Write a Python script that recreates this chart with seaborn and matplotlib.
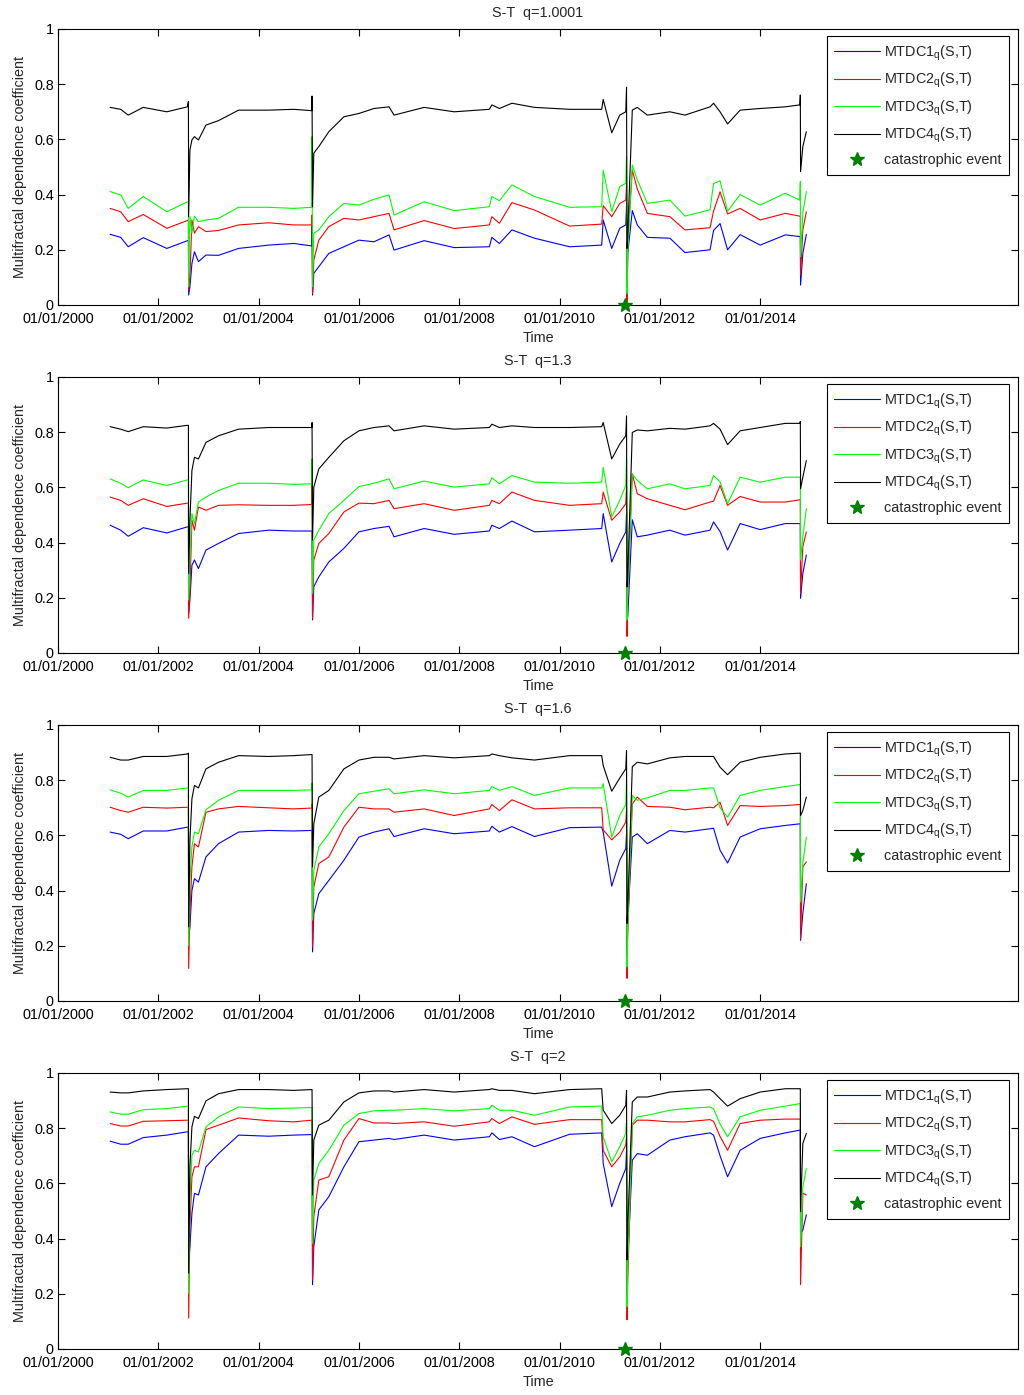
import numpy as np
import pandas as pd
import matplotlib
matplotlib.use("Agg")
import matplotlib.pyplot as plt
import matplotlib.dates as mdates
from matplotlib.lines import Line2D
import seaborn as sns

# sampling dates (decimal years), shared by all series
years = [2001.04, 2001.25, 2001.40, 2001.70, 2002.17, 2002.58, 2002.60, 2002.605, 2002.63, 2002.67,
         2002.72, 2002.80, 2002.95, 2003.20, 2003.60, 2004.20, 2004.70, 2005.06, 2005.065, 2005.075,
         2005.10, 2005.20, 2005.40, 2005.70, 2006.00, 2006.30, 2006.60, 2006.70, 2007.30, 2007.90,
         2008.60, 2008.65, 2008.80, 2009.05, 2009.50, 2010.20, 2010.84, 2010.87, 2011.04, 2011.20,
         2011.32, 2011.335, 2011.345, 2011.36, 2011.45, 2011.55, 2011.75, 2012.20, 2012.50, 2013.00,
         2013.07, 2013.20, 2013.35, 2013.60, 2014.00, 2014.50, 2014.79, 2014.80, 2014.805, 2014.85, 2014.92]

q_values = ["1.0001", "1.3", "1.6", "2"]
event_year = 2011.31

# q = 1.0001
p1_blue = [0.256, 0.245, 0.211, 0.244, 0.205, 0.233, 0.233, 0.036, 0.066, 0.150,
           0.193, 0.157, 0.181, 0.180, 0.205, 0.217, 0.223, 0.214, 0.290, 0.036,
           0.115, 0.139, 0.187, 0.211, 0.235, 0.229, 0.254, 0.199, 0.233, 0.208,
           0.211, 0.245, 0.223, 0.272, 0.242, 0.211, 0.217, 0.308, 0.205, 0.278,
           0.290, 0.360, 0.020, 0.187, 0.342, 0.290, 0.245, 0.242, 0.190, 0.200,
           0.270, 0.295, 0.200, 0.255, 0.217, 0.254, 0.248, 0.248, 0.072, 0.187, 0.256]
p1_red = [0.350, 0.338, 0.302, 0.328, 0.278, 0.306, 0.306, 0.054, 0.100, 0.308,
          0.260, 0.284, 0.266, 0.270, 0.290, 0.298, 0.290, 0.290, 0.326, 0.042,
          0.163, 0.235, 0.284, 0.314, 0.308, 0.320, 0.332, 0.272, 0.306, 0.277,
          0.290, 0.320, 0.296, 0.371, 0.344, 0.286, 0.293, 0.360, 0.320, 0.368,
          0.380, 0.430, 0.012, 0.235, 0.489, 0.420, 0.332, 0.320, 0.272, 0.280,
          0.340, 0.410, 0.330, 0.350, 0.308, 0.332, 0.322, 0.322, 0.109, 0.272, 0.338]
p1_green = [0.411, 0.399, 0.350, 0.393, 0.338, 0.374, 0.374, 0.066, 0.320, 0.260,
            0.322, 0.302, 0.308, 0.314, 0.354, 0.354, 0.350, 0.354, 0.610, 0.066,
            0.260, 0.272, 0.320, 0.368, 0.362, 0.383, 0.399, 0.326, 0.374, 0.342,
            0.356, 0.393, 0.378, 0.435, 0.393, 0.354, 0.356, 0.489, 0.338, 0.429,
            0.441, 0.537, 0.042, 0.199, 0.507, 0.453, 0.368, 0.380, 0.322, 0.345,
            0.440, 0.450, 0.340, 0.400, 0.362, 0.405, 0.380, 0.447, 0.175, 0.332, 0.411]
p1_black = [0.716, 0.709, 0.688, 0.716, 0.700, 0.718, 0.737, 0.320, 0.562, 0.598,
            0.610, 0.598, 0.652, 0.668, 0.706, 0.706, 0.709, 0.704, 0.757, 0.356,
            0.550, 0.574, 0.628, 0.682, 0.694, 0.712, 0.718, 0.688, 0.716, 0.700,
            0.709, 0.725, 0.712, 0.731, 0.716, 0.709, 0.709, 0.745, 0.624, 0.688,
            0.700, 0.789, 0.205, 0.260, 0.706, 0.716, 0.688, 0.700, 0.688, 0.718,
            0.731, 0.700, 0.656, 0.706, 0.712, 0.718, 0.725, 0.761, 0.483, 0.574, 0.628]

# q = 1.3
p2_blue = [0.463, 0.445, 0.423, 0.454, 0.435, 0.457, 0.457, 0.144, 0.192, 0.318,
           0.337, 0.306, 0.373, 0.397, 0.433, 0.445, 0.442, 0.442, 0.442, 0.120,
           0.240, 0.276, 0.330, 0.379, 0.439, 0.451, 0.459, 0.421, 0.451, 0.430,
           0.442, 0.463, 0.451, 0.478, 0.439, 0.445, 0.451, 0.505, 0.330, 0.397,
           0.439, 0.505, 0.120, 0.132, 0.483, 0.421, 0.427, 0.445, 0.427, 0.445,
           0.475, 0.440, 0.373, 0.469, 0.447, 0.469, 0.469, 0.469, 0.198, 0.288, 0.355]
p2_red = [0.565, 0.553, 0.535, 0.559, 0.531, 0.543, 0.543, 0.126, 0.228, 0.481,
          0.445, 0.529, 0.517, 0.535, 0.537, 0.535, 0.535, 0.538, 0.613, 0.126,
          0.337, 0.397, 0.433, 0.511, 0.543, 0.541, 0.553, 0.523, 0.541, 0.517,
          0.535, 0.553, 0.541, 0.583, 0.553, 0.535, 0.541, 0.583, 0.481, 0.511,
          0.541, 0.601, 0.060, 0.216, 0.649, 0.577, 0.559, 0.535, 0.519, 0.547,
          0.550, 0.607, 0.535, 0.567, 0.547, 0.547, 0.555, 0.555, 0.216, 0.385, 0.439]
p2_green = [0.631, 0.615, 0.599, 0.627, 0.607, 0.627, 0.627, 0.192, 0.337, 0.505,
            0.469, 0.547, 0.565, 0.589, 0.615, 0.615, 0.611, 0.613, 0.703, 0.216,
            0.409, 0.445, 0.505, 0.553, 0.603, 0.615, 0.631, 0.595, 0.623, 0.601,
            0.613, 0.635, 0.613, 0.643, 0.619, 0.615, 0.619, 0.673, 0.493, 0.553,
            0.607, 0.703, 0.120, 0.228, 0.649, 0.625, 0.595, 0.613, 0.595, 0.607,
            0.643, 0.620, 0.541, 0.637, 0.619, 0.637, 0.637, 0.637, 0.337, 0.421, 0.523]
p2_black = [0.820, 0.811, 0.802, 0.820, 0.815, 0.825, 0.825, 0.288, 0.481, 0.661,
            0.709, 0.703, 0.763, 0.787, 0.811, 0.817, 0.817, 0.817, 0.835, 0.409,
            0.601, 0.667, 0.709, 0.769, 0.805, 0.817, 0.823, 0.805, 0.823, 0.811,
            0.817, 0.829, 0.817, 0.823, 0.817, 0.817, 0.820, 0.835, 0.703, 0.757,
            0.787, 0.859, 0.240, 0.288, 0.799, 0.808, 0.805, 0.814, 0.811, 0.823,
            0.832, 0.811, 0.755, 0.805, 0.817, 0.832, 0.832, 0.839, 0.595, 0.637, 0.697]

# q = 1.6
p3_blue = [0.612, 0.604, 0.588, 0.616, 0.616, 0.630, 0.630, 0.227, 0.269, 0.401,
           0.443, 0.431, 0.522, 0.570, 0.612, 0.618, 0.616, 0.618, 0.618, 0.178,
           0.317, 0.389, 0.437, 0.510, 0.594, 0.612, 0.624, 0.596, 0.624, 0.606,
           0.616, 0.633, 0.612, 0.632, 0.596, 0.628, 0.630, 0.612, 0.416, 0.510,
           0.552, 0.606, 0.160, 0.293, 0.594, 0.606, 0.570, 0.618, 0.612, 0.624,
           0.626, 0.546, 0.500, 0.594, 0.624, 0.636, 0.642, 0.642, 0.220, 0.317, 0.425]
p3_red = [0.702, 0.690, 0.684, 0.702, 0.699, 0.702, 0.702, 0.118, 0.317, 0.486,
          0.570, 0.558, 0.684, 0.696, 0.705, 0.700, 0.696, 0.699, 0.714, 0.196,
          0.413, 0.498, 0.522, 0.630, 0.702, 0.696, 0.696, 0.684, 0.696, 0.672,
          0.696, 0.712, 0.690, 0.729, 0.696, 0.700, 0.700, 0.620, 0.584, 0.612,
          0.648, 0.690, 0.082, 0.257, 0.714, 0.739, 0.705, 0.702, 0.693, 0.702,
          0.700, 0.720, 0.636, 0.708, 0.705, 0.708, 0.712, 0.712, 0.227, 0.486, 0.504]
p3_green = [0.765, 0.753, 0.739, 0.763, 0.763, 0.772, 0.772, 0.202, 0.437, 0.558,
            0.612, 0.606, 0.693, 0.727, 0.763, 0.763, 0.763, 0.765, 0.789, 0.293,
            0.473, 0.558, 0.606, 0.690, 0.751, 0.760, 0.769, 0.751, 0.765, 0.751,
            0.763, 0.777, 0.763, 0.777, 0.745, 0.772, 0.772, 0.787, 0.594, 0.672,
            0.712, 0.801, 0.124, 0.269, 0.745, 0.727, 0.736, 0.763, 0.763, 0.772,
            0.772, 0.700, 0.666, 0.745, 0.763, 0.777, 0.784, 0.784, 0.359, 0.498, 0.594]
p3_black = [0.883, 0.873, 0.873, 0.886, 0.886, 0.895, 0.898, 0.269, 0.582, 0.733,
            0.781, 0.772, 0.841, 0.865, 0.889, 0.886, 0.889, 0.893, 0.893, 0.486,
            0.642, 0.739, 0.763, 0.841, 0.873, 0.883, 0.883, 0.877, 0.889, 0.881,
            0.889, 0.895, 0.889, 0.881, 0.873, 0.889, 0.889, 0.853, 0.760, 0.808,
            0.841, 0.907, 0.281, 0.341, 0.849, 0.865, 0.859, 0.881, 0.886, 0.886,
            0.886, 0.847, 0.820, 0.865, 0.883, 0.895, 0.898, 0.898, 0.672, 0.690, 0.739]

# q = 2
p4_blue = [0.753, 0.742, 0.742, 0.766, 0.775, 0.787, 0.787, 0.317, 0.371, 0.492,
           0.564, 0.558, 0.660, 0.708, 0.775, 0.771, 0.775, 0.777, 0.777, 0.233,
           0.371, 0.504, 0.552, 0.660, 0.751, 0.757, 0.763, 0.759, 0.775, 0.757,
           0.769, 0.783, 0.759, 0.769, 0.733, 0.778, 0.783, 0.672, 0.516, 0.600,
           0.654, 0.720, 0.190, 0.323, 0.684, 0.708, 0.702, 0.757, 0.769, 0.783,
           0.775, 0.700, 0.624, 0.720, 0.763, 0.783, 0.793, 0.793, 0.419, 0.431, 0.486]
p4_red = [0.817, 0.808, 0.808, 0.825, 0.827, 0.829, 0.829, 0.112, 0.443, 0.624,
          0.660, 0.660, 0.795, 0.811, 0.837, 0.827, 0.823, 0.829, 0.829, 0.250,
          0.480, 0.612, 0.624, 0.757, 0.835, 0.819, 0.819, 0.817, 0.823, 0.807,
          0.823, 0.835, 0.817, 0.841, 0.814, 0.831, 0.831, 0.720, 0.660, 0.696,
          0.739, 0.769, 0.106, 0.251, 0.811, 0.829, 0.829, 0.823, 0.823, 0.831,
          0.825, 0.770, 0.720, 0.817, 0.829, 0.833, 0.833, 0.833, 0.233, 0.564, 0.558]
p4_green = [0.859, 0.851, 0.851, 0.867, 0.871, 0.880, 0.880, 0.202, 0.540, 0.702,
            0.720, 0.714, 0.805, 0.841, 0.877, 0.871, 0.873, 0.875, 0.875, 0.383,
            0.612, 0.672, 0.720, 0.811, 0.853, 0.863, 0.865, 0.865, 0.871, 0.863,
            0.871, 0.883, 0.865, 0.865, 0.847, 0.877, 0.880, 0.769, 0.678, 0.733,
            0.781, 0.829, 0.154, 0.299, 0.817, 0.841, 0.847, 0.865, 0.871, 0.877,
            0.870, 0.815, 0.769, 0.841, 0.865, 0.880, 0.889, 0.889, 0.371, 0.588, 0.654]
p4_black = [0.931, 0.928, 0.928, 0.935, 0.940, 0.943, 0.943, 0.275, 0.660, 0.805,
            0.843, 0.835, 0.899, 0.925, 0.940, 0.940, 0.937, 0.940, 0.940, 0.558,
            0.757, 0.811, 0.829, 0.895, 0.928, 0.935, 0.935, 0.931, 0.940, 0.931,
            0.940, 0.943, 0.937, 0.937, 0.925, 0.940, 0.943, 0.865, 0.817, 0.847,
            0.883, 0.937, 0.323, 0.443, 0.895, 0.913, 0.913, 0.931, 0.935, 0.940,
            0.931, 0.907, 0.880, 0.907, 0.931, 0.943, 0.943, 0.943, 0.498, 0.745, 0.781]

panels = [[p1_blue, p1_red, p1_green, p1_black],
          [p2_blue, p2_red, p2_green, p2_black],
          [p3_blue, p3_red, p3_green, p3_black],
          [p4_blue, p4_red, p4_green, p4_black]]

sns.set_style("white")
plt.rcParams['font.family'] = ['Liberation Sans', 'DejaVu Sans']
plt.rcParams['mathtext.default'] = 'regular'

base = pd.Timestamp("2000-01-01")


def to_date(y):
    return base + pd.to_timedelta((np.asarray(y, dtype=float) - 2000) * 365.25, unit="D")


dates = to_date(years)
event_date = to_date([event_year])[0]
names = ["MTDC1", "MTDC2", "MTDC3", "MTDC4"]
colors = {"MTDC1": "#0000ff", "MTDC2": "#ff0000", "MTDC3": "#00ff00", "MTDC4": "#000000"}
star_color = "#008000"
fs = 10.4

fig = plt.figure(figsize=(10.24, 13.95), dpi=100)
bottoms = [305, 653, 1001, 1349]

for i, series in enumerate(panels):
    ax = fig.add_axes([58 / 1024, 1 - bottoms[i] / 1395, 960 / 1024, 276 / 1395])
    df = pd.concat([pd.DataFrame({"Time": dates, "value": vals, "series": n})
                    for n, vals in zip(names, series)], ignore_index=True)
    sns.lineplot(data=df, x="Time", y="value", hue="series", hue_order=names,
                 palette=colors, estimator=None, sort=False, linewidth=0.8,
                 legend=False, ax=ax)
    ax.plot([event_date], [0], linestyle="none", marker="*", markersize=10,
            color=star_color, clip_on=False, zorder=10)

    ax.set_xlim(base, to_date([2019.14])[0])
    ax.set_ylim(0, 1)
    ax.set_xticks(pd.date_range("2000-01-01", "2014-01-01", freq="2YS"))
    ax.xaxis.set_major_formatter(mdates.DateFormatter("%m/%d/%Y"))
    ax.set_yticks([0, 0.2, 0.4, 0.6, 0.8, 1])
    ax.set_yticklabels(["0", "0.2", "0.4", "0.6", "0.8", "1"])
    ax.tick_params(direction="in", length=5, width=0.8, top=True, right=True,
                   bottom=True, left=True, labelsize=fs, colors="black")
    ax.tick_params(axis="x", pad=5)
    ax.tick_params(axis="y", pad=3)
    for sp in ax.spines.values():
        sp.set_color("black")
        sp.set_linewidth(0.8)

    ax.set_xlabel("Time", fontsize=fs, labelpad=4)
    ax.set_ylabel("Multifractal dependence coefficient", fontsize=fs, labelpad=5)
    ax.set_title("S-T  q=" + q_values[i], fontsize=fs, pad=9)

    handles = [Line2D([0], [0], color=colors[n], lw=0.8) for n in names]
    handles.append(Line2D([0], [0], linestyle="none", marker="*", markersize=10, color=star_color))
    labels = ["MTDC%d$_q$(S,T)" % k for k in range(1, 5)] + ["catastrophic event"]
    leg = ax.legend(handles, labels, loc="upper right",
                    bbox_to_anchor=(1 - 9 / 960, 1 - 7 / 276), borderaxespad=0,
                    fontsize=fs, handlelength=3.2, handletextpad=0.3,
                    labelspacing=0.57, borderpad=0.5, fancybox=False,
                    framealpha=1, edgecolor="black")
    leg.get_frame().set_linewidth(0.8)

fig.savefig("out.png", dpi=100)
